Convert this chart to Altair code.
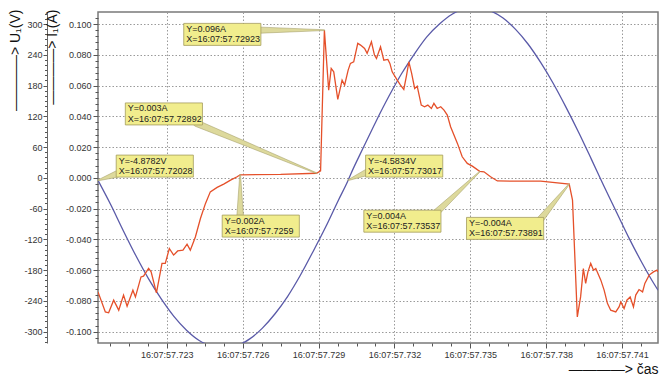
import altair as alt
import pandas as pd

# ---------------- data ----------------
# time axis in milliseconds after 16:07:57.700 (so 723 -> 16:07:57.723)
volt_t = [720.28, 720.78, 721.28, 721.78, 722.28, 722.78, 723.28, 723.78, 724.28, 724.78,
          725.28, 725.78, 726.28, 726.78, 727.28, 727.78, 728.28, 728.78, 729.28, 729.78,
          730.17, 730.28, 730.78, 731.28, 731.78, 732.28, 732.78, 733.28, 733.78, 734.28,
          734.78, 735.28, 735.78, 736.28, 736.78, 737.28, 737.78, 738.28, 738.78, 739.28,
          739.78, 740.28, 740.78, 741.28, 741.78, 742.28, 742.42]
volt_u = [-4.9, -52, -103, -152, -197, -236, -270, -297, -317, -328,
          -332, -327, -314, -293, -265, -231, -190, -144, -96, -44,
          -4.6, 8, 60, 111, 159, 203, 241, 275, 300, 319,
          330, 332, 326, 312, 290, 261, 225, 184, 138, 89,
          37, -16, -67, -118, -165, -208, -219]

cur_t = [720.28, 720.57, 720.70, 720.90, 721.10, 721.29, 721.43, 721.66, 721.76, 721.98,
         722.08, 722.28, 722.38, 722.59, 722.81, 722.94, 723.10, 723.27, 723.43, 723.64,
         723.80, 723.93, 724.13, 724.33, 724.53, 724.72, 724.99, 725.25, 725.52, 725.78,
         725.90, 727.50, 728.92, 729.08, 729.23, 729.40, 729.50, 729.60, 729.76, 729.93, 730.03,
         730.17, 730.26, 730.39, 730.55, 730.66, 730.82, 730.92, 731.09, 731.21, 731.29,
         731.45, 731.58, 731.74, 731.82, 731.91, 732.11, 732.24, 732.37, 732.48, 732.57,
         732.68, 732.80, 732.90, 733.06, 733.19, 733.32, 733.46, 733.56, 733.69, 733.83,
         733.96, 734.09, 734.22, 734.49, 734.68, 734.88, 735.08, 735.37, 735.54, 735.80,
         736.07, 736.60, 737.78, 738.91, 739.04, 739.23, 739.36, 739.47, 739.56, 739.65,
         739.76, 739.87, 739.96, 740.16, 740.29, 740.42, 740.55, 740.75, 740.88, 740.95,
         741.08, 741.19, 741.32, 741.45, 741.54, 741.67, 741.81, 741.90, 742.07, 742.24,
         742.38, 742.42]
cur_i = [-0.0741, -0.0871, -0.0877, -0.0795, -0.0860, -0.0762, -0.0834, -0.0730, -0.0774, -0.0644,
         -0.0639, -0.0589, -0.0611, -0.0748, -0.0556, -0.0556, -0.0459, -0.0502, -0.0475, -0.0470,
         -0.0431, -0.0470, -0.0384, -0.0264, -0.0166, -0.0091, -0.0062, -0.0041, -0.0015, 0.0007,
         0.0020, 0.0022, 0.0030, 0.0045, 0.0960, 0.0570, 0.0711, 0.0689, 0.0510, 0.0635, 0.0603,
         0.0700, 0.0744, 0.0754, 0.0874, 0.0863, 0.0841, 0.0809, 0.0884, 0.0798, 0.0776,
         0.0852, 0.0765, 0.0770, 0.0744, 0.0689, 0.0635, 0.0603, 0.0575, 0.0668, 0.0754,
         0.0679, 0.0581, 0.0596, 0.0473, 0.0462, 0.0473, 0.0451, 0.0484, 0.0451, 0.0462,
         0.0440, 0.0408, 0.0332, 0.0224, 0.0137, 0.0094, 0.0076, 0.0042, 0.0039, 0.0007,
         -0.0020, -0.0021, -0.0021, -0.0040, -0.0145, -0.0904, -0.0774, -0.0589, -0.0686, -0.0611,
         -0.0556, -0.0600, -0.0589, -0.0665, -0.0730, -0.0816, -0.0860, -0.0871, -0.0839, -0.0806,
         -0.0849, -0.0795, -0.0774, -0.0839, -0.0762, -0.0726, -0.0741, -0.0686, -0.0632, -0.0611,
         -0.0600, -0.0611]

# callouts
ann_t = [720.28, 728.92, 729.23, 725.90, 730.17, 735.37, 738.91]
ann_v = [-4.8782, 0.003, 0.096, 0.002, -4.5834, 0.004, -0.004]
ann_unit = ["V", "A", "A", "A", "V", "A", "A"]
ann_ylabel = ["Y=-4.8782V", "Y=0.003A", "Y=0.096A", "Y=0.002A", "Y=-4.5834V", "Y=0.004A", "Y=-0.004A"]
ann_xlabel = ["X=16:07:57.72028", "X=16:07:57.72892", "X=16:07:57.72923", "X=16:07:57.7259",
              "X=16:07:57.73017", "X=16:07:57.73537", "X=16:07:57.73891"]
box_t = [721.00, 721.36, 723.67, 725.19, 730.86, 730.79, 734.85]
box_top = [0.0148, 0.0487, 0.1004, -0.0242, 0.0148, -0.0210, -0.0257]
lead_t = [721.02, 724.17, 726.50, 725.90, 730.93, 733.67, 737.78]
lead_v = [0.0024, 0.0355, 0.0960, -0.0242, 0.0037, -0.0223, -0.0268]

# ---------------- settings ----------------
V_PER_A = 3000.0
XDOM = [720.28, 742.42]
IDOM = [-0.10734, 0.1078]
UDOM = [IDOM[0] * V_PER_A, IDOM[1] * V_PER_A]
BOX_W = 3.05      # ms
BOX_H = 0.0143    # A
FONT = "Liberation Sans"
RED = "#e5502a"
BLUE = "#5a5aa8"

x_ticks = [round(720.75 + 0.75 * k, 2) for k in range(29)]
i_ticks = [round(0.004 * k, 4) for k in range(-26, 27)]
u_ticks = list(range(-320, 321, 10))

X_MAJOR = "abs(datum.value - round(datum.value)) < 0.01"
I_MAJOR = "abs(datum.value * 50 - round(datum.value * 50)) < 0.001"
U_MAJOR = "datum.value % 60 == 0"

volt_df = pd.DataFrame({"t": volt_t, "u": volt_u})
cur_df = pd.DataFrame({"t": cur_t, "i": cur_i})

box_df = pd.DataFrame({
    "t": box_t,
    "t2": [b + BOX_W for b in box_t],
    "by": box_top,
    "by2": [b - BOX_H for b in box_top],
    "text": [a + "\n" + b for a, b in zip(ann_ylabel, ann_xlabel)],
})

lead_rows = []
for k in range(len(ann_t)):
    v = ann_v[k] / V_PER_A if ann_unit[k] == "V" else ann_v[k]
    lead_rows.append({"id": k, "k": 0, "t": lead_t[k], "v": lead_v[k], "w": 6.5})
    lead_rows.append({"id": k, "k": 1, "t": ann_t[k], "v": v, "w": 0.8})
lead_df = pd.DataFrame(lead_rows)

x_axis = alt.Axis(
    orient="bottom",
    values=x_ticks,
    labelExpr=f"{X_MAJOR} ? '16:07:57.' + format(round(datum.value), 'd') : ''",
    tickSize={"condition": {"test": X_MAJOR, "value": 5}, "value": 3},
    grid=True,
    gridOpacity={"condition": {"test": X_MAJOR, "value": 1}, "value": 0},
    gridDash=[1.5, 2], gridColor="#9a9a9a", gridWidth=1,
    domain=False, labelOverlap=False, labelFlush=False, labelBound=False,
    labelPadding=2,
    title="————> čas", titleX=560, titleY=30, titleAlign="right",
    titleBaseline="alphabetic", titleAngle=0,
)


def xenc():
    # every layer carries the identical x axis so the shared axis merges cleanly
    return alt.X("t:Q", scale=alt.Scale(domain=XDOM, nice=False, zero=False), axis=x_axis)


def yi(field, axis=None):
    return alt.Y(f"{field}:Q", scale=alt.Scale(domain=IDOM, nice=False, zero=False), axis=axis)


i_axis = alt.Axis(
    orient="left", offset=0, values=i_ticks,
    labelExpr=f"{I_MAJOR} ? (datum.value < -0.0001 ? '-' : '') + format(abs(datum.value), '.3f') : ''",
    tickSize={"condition": {"test": I_MAJOR, "value": 5}, "value": 3},
    grid=True,
    gridOpacity={"condition": {"test": I_MAJOR, "value": 1}, "value": 0},
    gridDash=[1.5, 2], gridColor="#9a9a9a", gridWidth=1,
    domain=False, labelOverlap=False, labelBound=False, labelPadding=2,
    title="————> I₁(A)", titleX=-53, titleY=-3, titleAngle=270,
    titleAlign="right", titleBaseline="top",
)

u_axis = alt.Axis(
    orient="left", offset=51, values=u_ticks,
    labelExpr=f"{U_MAJOR} ? (datum.value < 0 ? '-' : '') + format(abs(datum.value), 'd') : ''",
    tickSize={"condition": {"test": U_MAJOR, "value": 4}, "value": 2.5},
    grid=False, domain=True, domainColor="#666", labelOverlap=False, labelBound=False,
    labelPadding=1,
    title="————>  U₁(V)", titleX=-39, titleY=-3, titleAngle=270,
    titleAlign="right", titleBaseline="top",
)

volt = alt.Chart(volt_df).mark_line(
    color=BLUE, strokeWidth=1.3, clip=True, interpolate="monotone"
).encode(
    x=xenc(),
    y=alt.Y("u:Q", scale=alt.Scale(domain=UDOM, nice=False, zero=False), axis=u_axis),
)

cur = alt.Chart(cur_df).mark_line(
    color=RED, strokeWidth=1.3, clip=True
).encode(
    x=xenc(),
    y=yi("i", i_axis),
)

leads = alt.Chart(lead_df).mark_trail(
    color="#ddd99c", stroke="#9d975f", strokeWidth=0.5
).encode(
    x=xenc(),
    y=yi("v"),
    size=alt.Size("w:Q", scale=None, legend=None),
    detail="id:N",
    order=alt.Order("k:Q"),
)

boxes = alt.Chart(box_df).mark_rect(
    fill="#f1ed8d", stroke="#a39c5e", strokeWidth=0.8
).encode(
    x=xenc(), x2="t2",
    y=yi("by"), y2="by2",
)

texts = alt.Chart(box_df).mark_text(
    align="left", baseline="top", dx=2.5, dy=1.5, font=FONT, fontSize=9,
    lineBreak="\n", lineHeight=10.5, color="#222222"
).encode(
    x=xenc(),
    y=yi("by"),
    text="text:N",
)

chart = alt.layer(volt, cur, leads, boxes, texts).resolve_scale(
    y="independent"
).properties(
    width=560, height=331,
    autosize=alt.AutoSizeParams(type="none"),
    padding={"left": 90, "top": 4, "right": 5, "bottom": 33},
    background="white",
).configure_view(
    stroke="#7a7a7a", strokeWidth=1.5
).configure_axis(
    labelFont=FONT, labelFontSize=9, labelColor="#333333",
    tickColor="#555555", tickWidth=1,
    titleFont=FONT, titleFontSize=14, titleFontWeight="normal", titleColor="#111111",
)

chart.save("out.html", embed_options={"renderer": "svg", "actions": False})
